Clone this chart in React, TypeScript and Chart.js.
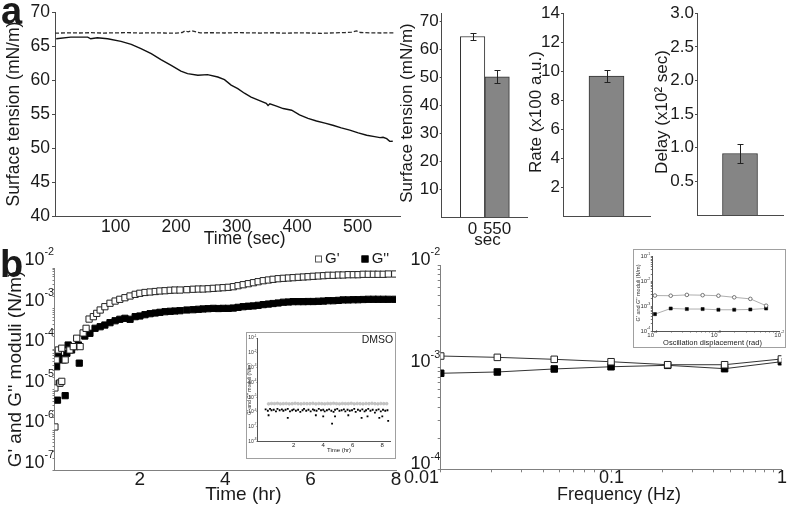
import React, { useEffect, useRef } from 'react';
import { Chart, registerables } from 'chart.js';

Chart.register(...registerables);

const FONT = '"Liberation Sans", Arial, Helvetica, sans-serif';
const INK = '#1a1a1a';
const AXIS = '#4a4a4a';
const AXIS_B = '#808080';

// ---------- Panel a : surface tension vs time ----------
const timeSolid = [2, 26, 54, 59, 70, 87, 109, 126, 142, 159, 175, 192, 208, 219, 236, 252, 269, 280, 291, 302, 313, 324, 338, 349, 352, 355, 366, 377, 391, 404, 418, 432, 446, 459, 473, 487, 501, 515, 528, 537, 542, 548, 553, 558];
const tensionSolid = [66.13, 66.37, 66.37, 66.13, 66.28, 66.13, 65.74, 65.29, 64.66, 63.93, 63.04, 62.21, 61.37, 60.99, 60.74, 60.84, 60.49, 60.1, 59.3, 58.78, 58.1, 57.54, 57.0, 56.6, 56.3, 56.55, 56.2, 55.84, 55.59, 54.9, 54.4, 54.01, 53.7, 53.38, 53.0, 52.65, 52.25, 51.91, 51.7, 51.55, 51.6, 51.4, 51.0, 51.03];
const timeCtrl = [0, 20, 40, 60, 80, 100, 120, 140, 160, 180, 200, 210, 215, 220, 226, 240, 260, 280, 300, 320, 340, 360, 380, 400, 420, 440, 460, 480, 490, 498, 505, 520, 540, 560];
const tensionCtrl = [66.95, 67.0, 66.98, 67.02, 66.97, 67.0, 67.03, 66.97, 67.0, 66.98, 66.95, 67.05, 67.3, 67.15, 67.3, 67.0, 67.02, 66.98, 67.03, 67.0, 66.97, 67.02, 66.95, 67.0, 66.98, 66.93, 67.0, 67.05, 67.1, 67.3, 67.05, 67.0, 66.98, 67.0];
const timeTicks = [100, 200, 300, 400, 500];
const tensionTicks = [40, 45, 50, 55, 60, 65, 70];

const barCats = ['0', '550'];
const barMeans = [64.6, 50.2];
const barErrs = [1.2, 2.4];
const barTicks = [10, 20, 30, 40, 50, 60, 70];

const rateMean = [9.66];
const rateErr = [0.4];
const rateTicks = [2, 4, 6, 8, 10, 12, 14];

const delayMean = [0.915];
const delayErr = [0.135];
const delayTicks = [0.5, 1.0, 1.5, 2.0, 2.5, 3.0];

// ---------- Panel b left : G' G'' vs time ----------
const earlyTimeGp = [0.01, 0.01, 0.04, 0.09, 0.13, 0.17, 0.17, 0.25, 0.36, 0.44, 0.52, 0.6, 0.67, 0.74, 0.81, 0.91, 0.99, 1.07, 1.18, 1.3, 1.42, 1.53, 1.65, 1.77, 1.89, 2.0];
const earlyGp = [1.2e-6, 1.1e-5, 5.4e-5, 9.5e-5, 1.45e-5, 1.6e-5, 1.05e-4, 5.4e-5, 9.5e-5, 1.15e-4, 1.85e-4, 1.15e-4, 2.5e-4, 3.25e-4, 5.5e-4, 6.3e-4, 7.6e-4, 9.2e-4, 1.11e-3, 1.35e-3, 1.53e-3, 1.69e-3, 1.85e-3, 2.04e-3, 2.24e-3, 2.38e-3];
const earlyTimeGpp = [0.05, 0.07, 0.07, 0.09, 0.11, 0.17, 0.21, 0.25, 0.29, 0.32, 0.4, 0.48, 0.56, 0.58, 0.71, 0.83, 0.95, 1.07, 1.18, 1.3, 1.42, 1.53, 1.65, 1.77, 1.89, 2.0];
const earlyGpp = [3.67e-5, 5.5e-6, 5.4e-5, 7.9e-5, 1.43e-5, 5.9e-5, 5.4e-5, 7.1e-6, 7.9e-5, 1.26e-4, 9.5e-5, 1.15e-4, 1.26e-4, 4.5e-5, 2.1e-4, 2.45e-4, 3.26e-4, 3.56e-4, 3.92e-4, 4.48e-4, 5.0e-4, 5.43e-4, 5.74e-4, 5.43e-4, 6.3e-4, 6.55e-4];
const lateTime = [2.12, 2.24, 2.36, 2.47, 2.59, 2.71, 2.82, 2.94, 3.1, 3.25, 3.37, 3.48, 3.6, 3.72, 3.84, 3.95, 4.07, 4.19, 4.3, 4.42, 4.54, 4.66, 4.77, 4.89, 5.01, 5.12, 5.24, 5.36, 5.48, 5.59, 5.71, 5.83, 5.94, 6.06, 6.18, 6.3, 6.41, 6.53, 6.65, 6.76, 6.88, 7.0, 7.11, 7.23, 7.35, 7.47, 7.58, 7.7, 7.82, 7.97];
const lateGp = [2.49e-3, 2.56e-3, 2.63e-3, 2.71e-3, 2.75e-3, 2.82e-3, 2.86e-3, 2.86e-3, 2.92e-3, 2.99e-3, 3.03e-3, 3.03e-3, 3.08e-3, 3.15e-3, 3.21e-3, 3.27e-3, 3.34e-3, 3.46e-3, 3.66e-3, 3.87e-3, 4.1e-3, 4.34e-3, 4.59e-3, 4.86e-3, 5.06e-3, 5.26e-3, 5.44e-3, 5.57e-3, 5.67e-3, 5.77e-3, 5.9e-3, 6.0e-3, 6.1e-3, 6.24e-3, 6.35e-3, 6.46e-3, 6.61e-3, 6.61e-3, 6.72e-3, 6.72e-3, 6.84e-3, 6.84e-3, 6.84e-3, 7.0e-3, 7.0e-3, 7.0e-3, 7.0e-3, 7.0e-3, 7.11e-3, 7.11e-3];
const lateGpp = [7.05e-4, 7.46e-4, 7.76e-4, 8.07e-4, 8.35e-4, 8.55e-4, 8.69e-4, 8.85e-4, 9.2e-4, 9.36e-4, 9.58e-4, 9.75e-4, 9.91e-4, 1.01e-3, 1.0e-3, 1.01e-3, 1.01e-3, 1.03e-3, 1.07e-3, 1.11e-3, 1.14e-3, 1.16e-3, 1.2e-3, 1.25e-3, 1.29e-3, 1.33e-3, 1.37e-3, 1.43e-3, 1.45e-3, 1.48e-3, 1.48e-3, 1.48e-3, 1.49e-3, 1.49e-3, 1.51e-3, 1.53e-3, 1.56e-3, 1.56e-3, 1.59e-3, 1.63e-3, 1.63e-3, 1.65e-3, 1.65e-3, 1.67e-3, 1.69e-3, 1.69e-3, 1.69e-3, 1.69e-3, 1.69e-3, 1.69e-3];
const hourTicks = [2, 4, 6, 8];

// DMSO inset
const dmsoTimeGp = [0.3, 0.5, 0.7, 0.9, 1.1, 1.3, 1.5, 1.7, 1.9, 2.1, 2.3, 2.5, 2.7, 2.9, 3.1, 3.3, 3.5, 3.7, 3.9, 4.1, 4.3, 4.5, 4.7, 4.9, 5.1, 5.3, 5.5, 5.7, 5.9, 6.1, 6.3, 6.5, 6.7, 6.9, 7.1, 7.3, 7.5, 7.7, 7.9, 8.1, 8.3];
const dmsoGp = [3.5e-6, 3.7e-6, 3.6e-6, 3.8e-6, 3.5e-6, 3.6e-6, 3.7e-6, 3.5e-6, 3.6e-6, 3.8e-6, 3.6e-6, 3.5e-6, 3.7e-6, 3.6e-6, 3.6e-6, 3.8e-6, 3.5e-6, 3.7e-6, 3.6e-6, 3.5e-6, 3.7e-6, 3.6e-6, 3.8e-6, 3.6e-6, 3.5e-6, 3.7e-6, 3.6e-6, 3.6e-6, 3.8e-6, 3.5e-6, 3.7e-6, 3.6e-6, 3.5e-6, 3.7e-6, 3.6e-6, 3.8e-6, 3.6e-6, 3.5e-6, 3.7e-6, 3.6e-6, 3.6e-6];
const dmsoTimeGpp = [0.1, 0.25, 0.4, 0.5, 0.65, 0.8, 0.9, 1.05, 1.2, 1.3, 1.45, 1.6, 1.75, 1.9, 2.0, 2.15, 2.3, 2.45, 2.6, 2.7, 2.85, 3.0, 3.15, 3.3, 3.4, 3.55, 3.7, 3.85, 4.0, 4.1, 4.25, 4.4, 4.55, 4.7, 4.8, 4.95, 5.1, 5.25, 5.4, 5.5, 5.65, 5.8, 5.95, 6.1, 6.2, 6.35, 6.5, 6.65, 6.8, 6.9, 7.05, 7.2, 7.35, 7.5, 7.6, 7.75, 7.9, 8.05, 8.2, 8.35, 0.3, 1.6, 3.5, 4.0, 4.6, 4.8, 5.7, 6.6, 7.0, 7.8, 8.0, 8.4];
const dmsoGpp = [1.5e-6, 1.2e-6, 1.6e-6, 1.3e-6, 1.4e-6, 1.1e-6, 1.6e-6, 1.3e-6, 1.5e-6, 1.2e-6, 1.4e-6, 1.6e-6, 1.1e-6, 1.3e-6, 1.5e-6, 1.2e-6, 1.4e-6, 1.0e-6, 1.3e-6, 1.6e-6, 1.2e-6, 1.4e-6, 1.1e-6, 1.5e-6, 1.3e-6, 1.2e-6, 1.6e-6, 1.3e-6, 1.4e-6, 1.1e-6, 1.3e-6, 1.5e-6, 1.2e-6, 1.0e-6, 1.4e-6, 1.6e-6, 1.2e-6, 1.3e-6, 1.5e-6, 1.1e-6, 1.4e-6, 1.2e-6, 1.3e-6, 1.6e-6, 1.0e-6, 1.4e-6, 1.2e-6, 1.5e-6, 1.1e-6, 1.3e-6, 1.6e-6, 1.2e-6, 1.4e-6, 0.9e-6, 1.3e-6, 1.5e-6, 1.1e-6, 1.4e-6, 1.2e-6, 1.3e-6, 6e-7, 4e-7, 6e-7, 5e-7, 1.6e-7, 5e-7, 6e-7, 4e-7, 5e-7, 4e-7, 5e-7, 2.5e-7];
const dmsoHourTicks = [2, 4, 6, 8];

// ---------- Panel b right : frequency sweep ----------
const freq = [0.01, 0.0215, 0.0464, 0.1, 0.215, 0.464, 1];
const freqGp = [1.285e-3, 1.247e-3, 1.193e-3, 1.13e-3, 1.056e-3, 1.056e-3, 1.202e-3];
const freqGpp = [8.71e-4, 8.97e-4, 9.6e-4, 1.009e-3, 1.042e-3, 9.66e-4, 1.13e-3];
const freqLabels = ['0.01', '0.1', '1'];

// amplitude inset
const disp = [1.1e-4, 1.95e-4, 3.5e-4, 6.2e-4, 1.1e-3, 1.95e-3, 3.5e-3, 6.2e-3];
const dispGp = [2.7e-3, 2.66e-3, 2.87e-3, 2.79e-3, 2.66e-3, 2.29e-3, 1.98e-3, 1.05e-3];
const dispGpp = [4.8e-4, 8.1e-4, 7.7e-4, 7.7e-4, 7.2e-4, 7.2e-4, 7.4e-4, 8.1e-4];

// ---------- helpers ----------
const fixW = (w: number) => (s: any) => { s.width = w; };
const fixH = (h: number) => (s: any) => { s.height = h; };
const setTicks = (vals: number[]) => (s: any) => { s.ticks = vals.map((v) => ({ value: v })); };
function logTicks(lo: number, hi: number) {
  const out: number[] = [];
  for (let e = lo; e < hi; e++) for (let m = 1; m < 10; m++) out.push(m * Math.pow(10, e));
  out.push(Math.pow(10, hi));
  return out;
}
const pts = (xs: number[], ys: number[]) => xs.map((x, i) => ({ x, y: ys[i] }));
const font = (size: number, lineHeight = 1.2) => ({ family: FONT, size, lineHeight });

function drawPow(ctx: any, x: number, y: number, exp: number, size: number, align: string, color: string) {
  ctx.save();
  ctx.fillStyle = color;
  ctx.textBaseline = 'middle';
  ctx.textAlign = 'left';
  const big = `${size}px ${FONT}`;
  const small = `${size * 0.6}px ${FONT}`;
  ctx.font = big;
  const w1 = ctx.measureText('10').width;
  const es = String(exp);
  ctx.font = small;
  const w2 = ctx.measureText(es).width;
  const x0 = align === 'right' ? x - w1 - w2 : x - (w1 + w2) / 2;
  ctx.font = big;
  ctx.fillText('10', x0, y);
  ctx.font = small;
  ctx.fillText(es, x0 + w1, y - size * 0.42);
  ctx.restore();
}

const textPlugin = {
  id: 'texts',
  afterDraw(chart: any, _a: any, opts: any) {
    const ctx = chart.ctx;
    for (const it of opts.items || []) {
      ctx.save();
      ctx.font = `${it.bold ? 'bold ' : ''}${it.size}px ${FONT}`;
      ctx.fillStyle = it.color || INK;
      ctx.textAlign = it.align || 'center';
      ctx.textBaseline = it.baseline || 'middle';
      ctx.translate(it.x, it.y);
      if (it.rot) ctx.rotate(it.rot);
      ctx.fillText(it.t, 0, 0);
      ctx.restore();
    }
    for (const m of opts.marks || []) {
      ctx.save();
      ctx.fillStyle = m.fill;
      ctx.strokeStyle = m.stroke;
      ctx.lineWidth = 1;
      ctx.fillRect(m.x - m.s / 2, m.y - m.s / 2, m.s, m.s);
      ctx.strokeRect(m.x - m.s / 2 + 0.5, m.y - m.s / 2 + 0.5, m.s - 1, m.s - 1);
      ctx.restore();
    }
  },
};

const powPlugin = {
  id: 'pow',
  afterDraw(chart: any, _a: any, opts: any) {
    const ctx = chart.ctx;
    for (const sp of opts.specs || []) {
      const s = chart.scales[sp.axis];
      for (const e of sp.exps) {
        const p = s.getPixelForValue(Math.pow(10, e));
        if (s.isHorizontal()) drawPow(ctx, p + (sp.dx || 0), s.top + sp.dy, e, sp.size, 'center', sp.color || INK);
        else drawPow(ctx, s.right - sp.dx, p + (sp.dy || 0), e, sp.size, 'right', sp.color || INK);
      }
    }
  },
};

const errPlugin = {
  id: 'errbars',
  afterDatasetsDraw(chart: any) {
    const ctx = chart.ctx;
    const y = chart.scales.y;
    chart.data.datasets.forEach((ds: any, di: number) => {
      if (!ds.errors) return;
      const meta = chart.getDatasetMeta(di);
      meta.data.forEach((el: any, i: number) => {
        const raw = ds.data[i];
        const v = typeof raw === 'number' ? raw : raw.y;
        const t = Math.round(y.getPixelForValue(v + ds.errors[i])) + 0.5;
        const b = Math.round(y.getPixelForValue(v - ds.errors[i])) + 0.5;
        const x = Math.round(el.x) + 0.5;
        ctx.save();
        ctx.strokeStyle = '#222';
        ctx.lineWidth = 1;
        ctx.beginPath();
        ctx.moveTo(x, t); ctx.lineTo(x, b);
        ctx.moveTo(x - 3, t); ctx.lineTo(x + 3, t);
        ctx.moveTo(x - 3, b); ctx.lineTo(x + 3, b);
        ctx.stroke();
        ctx.restore();
      });
    });
  },
};

const base = {
  responsive: false,
  animation: false as const,
  devicePixelRatio: 1,
  events: [] as any[],
};

const noLegend = { legend: { display: false }, tooltip: { enabled: false } };

function axisLinear(o: any) {
  return {
    type: 'linear',
    offset: false,
    border: { display: true, color: o.color || AXIS, width: 1 },
    grid: { display: true, offset: false, drawOnChartArea: false, drawTicks: !!o.tick, tickLength: o.tick || 0, color: o.color || AXIS },
    ticks: { font: font(o.size || 17, o.lh || 1.2), color: INK, padding: o.pad ?? 2, maxRotation: 0, autoSkip: false, callback: o.cb },
    ...o.extra,
  };
}

// ---------- chart configs ----------
function cfgLine() {
  return {
    type: 'line',
    data: {
      datasets: [
        { data: pts(timeCtrl, tensionCtrl), borderColor: '#2a2a2a', borderWidth: 1.3, borderDash: [4, 2], pointRadius: 0 },
        { data: pts(timeSolid, tensionSolid), borderColor: '#111', borderWidth: 1.4, pointRadius: 0 },
      ],
    },
    options: {
      ...base,
      layout: { padding: { top: 12, right: 10, left: 0, bottom: 0 } },
      scales: {
        x: axisLinear({ size: 17.5, pad: 1, extra: { min: 0, max: 570, afterBuildTicks: setTicks(timeTicks), afterFit: fixH(34) } }),
        y: axisLinear({ size: 17.5, tick: 3, pad: 2, extra: { min: 40, max: 70, afterBuildTicks: setTicks(tensionTicks), afterFit: fixW(55) } }),
      },
      plugins: {
        ...noLegend,
        texts: {
          items: [
            { t: 'a', x: 1, y: 24, size: 38, bold: true, align: 'left', baseline: 'alphabetic' },
            { t: 'Surface tension (mN/m)', x: 14.5, y: 114, size: 17.5, rot: -Math.PI / 2 },
            { t: 'Time (sec)', x: 244.7, y: 239.5, size: 17.5 },
          ],
        },
      },
    },
    plugins: [textPlugin],
  };
}

function cfgBar1() {
  return {
    type: 'bar',
    data: {
      datasets: [
        {
          data: barMeans.map((v, i) => ({ x: i, y: v })),
          backgroundColor: ['#ffffff', '#858585'],
          borderColor: '#333',
          borderWidth: 1,
          barThickness: 24.5,
          errors: barErrs,
        },
      ],
    },
    options: {
      ...base,
      layout: { padding: { top: 13, right: 10, left: 0, bottom: 0 } },
      scales: {
        x: axisLinear({ size: 17, pad: 2, cb: (_v: any, i: number) => barCats[i], extra: { min: -1.26, max: 2.22, afterBuildTicks: setTicks(barCats.map((_c, i) => i)), afterFit: fixH(33) } }),
        y: axisLinear({ size: 17, tick: 2, pad: 1, extra: { min: 0, max: 73, afterBuildTicks: setTicks(barTicks), afterFit: fixW(49.7) } }),
      },
      plugins: {
        ...noLegend,
        texts: {
          items: [
            { t: 'Surface tension (mN/m)', x: 15, y: 113, size: 17, rot: -Math.PI / 2 },
            { t: 'sec', x: 95.5, y: 240, size: 17 },
          ],
        },
      },
    },
    plugins: [errPlugin, textPlugin],
  };
}

function cfgSingleBar(values: number[], errs: number[], max: number, ticks: number[], yW: number, top: number, xH: number, rightPad: number, title: string, fmt?: (v: number) => string) {
  return {
    type: 'bar',
    data: {
      labels: [''],
      datasets: [
        { data: values, backgroundColor: '#858585', borderColor: '#333', borderWidth: 1, barThickness: 35, errors: errs },
      ],
    },
    options: {
      ...base,
      layout: { padding: { top, right: rightPad, left: 0, bottom: 0 } },
      scales: {
        x: {
          type: 'category',
          border: { display: true, color: AXIS, width: 1 },
          grid: { display: false },
          ticks: { display: false },
          afterFit: fixH(xH),
        },
        y: axisLinear({ size: 17, tick: 2, pad: 1, cb: fmt ? (v: number) => fmt(v) : undefined, extra: { min: 0, max, afterBuildTicks: setTicks(ticks), afterFit: fixW(yW) } }),
      },
      plugins: {
        ...noLegend,
        texts: { items: [{ t: title, x: 14, y: 112, size: 17, rot: -Math.PI / 2 }] },
      },
    },
    plugins: [errPlugin, textPlugin],
  };
}

function cfgTimeLog() {
  return {
    type: 'scatter',
    data: {
      datasets: [
        { data: pts([...earlyTimeGp, ...lateTime], [...earlyGp, ...lateGp]), pointStyle: 'rect', pointRadius: 4.4, backgroundColor: '#fff', borderColor: '#222', borderWidth: 1 },
        { data: pts([...earlyTimeGpp, ...lateTime], [...earlyGpp, ...lateGpp]), pointStyle: 'rect', pointRadius: 4.4, backgroundColor: '#000', borderColor: '#000', borderWidth: 1 },
      ],
    },
    options: {
      ...base,
      layout: { padding: { top: 23, right: 14, left: 0, bottom: 0 } },
      scales: {
        x: axisLinear({ size: 19, lh: 1.0, pad: 0, color: AXIS_B, extra: { min: 0, max: 8, afterBuildTicks: setTicks(hourTicks), afterFit: fixH(35.3) } }),
        y: {
          type: 'logarithmic',
          min: 1e-7,
          max: 1e-2,
          border: { display: true, color: AXIS_B, width: 1 },
          grid: { display: true, drawOnChartArea: false, drawTicks: true, tickLength: 2, color: AXIS_B },
          ticks: { display: false },
          afterBuildTicks: setTicks(logTicks(-7, -2)),
          afterFit: fixW(54.5),
        },
      },
      plugins: {
        ...noLegend,
        pow: { specs: [{ axis: 'y', exps: [-2, -3, -4, -5, -6, -7], size: 18, dx: 0.5, dy: -8 }] },
        texts: {
          items: [
            { t: 'b', x: 0, y: 31.5, size: 38, bold: true, align: 'left', baseline: 'alphabetic' },
            { t: "G' and G'' moduli (N/m)", x: 16, y: 124, size: 19, rot: -Math.PI / 2 },
            { t: 'Time (hr)', x: 243.3, y: 250, size: 19 },
            { t: "G'", x: 325, y: 14, size: 15, align: 'left' },
            { t: "G''", x: 371.7, y: 14, size: 15, align: 'left' },
          ],
          marks: [
            { x: 318.5, y: 14, s: 7, fill: '#fff', stroke: '#555' },
            { x: 365, y: 14, s: 7, fill: '#000', stroke: '#000' },
          ],
        },
      },
    },
    plugins: [powPlugin, textPlugin],
  };
}

function cfgDmso() {
  return {
    type: 'scatter',
    data: {
      datasets: [
        { data: pts(dmsoTimeGp, dmsoGp), pointStyle: 'circle', pointRadius: 1.4, backgroundColor: '#c4c4c4', borderColor: '#b5b5b5', borderWidth: 0.6 },
        { data: pts(dmsoTimeGpp, dmsoGpp), pointStyle: 'rect', pointRadius: 1.3, backgroundColor: '#000', borderColor: '#000', borderWidth: 0 },
      ],
    },
    options: {
      ...base,
      layout: { padding: { top: 5, right: 1, left: 0, bottom: 0 } },
      scales: {
        x: axisLinear({ size: 6, lh: 1.0, pad: 1, color: '#555', extra: { min: -0.45, max: 8.55, afterBuildTicks: setTicks(dmsoHourTicks), afterFit: fixH(16.5) } }),
        y: {
          type: 'logarithmic',
          min: 1e-8,
          max: 1e-1,
          border: { display: true, color: '#555', width: 1 },
          grid: { display: true, drawOnChartArea: false, drawTicks: true, tickLength: 1, color: '#777' },
          ticks: { display: false },
          afterBuildTicks: setTicks([1e-8, 1e-7, 1e-6, 1e-5, 1e-4, 1e-3, 1e-2, 1e-1]),
          afterFit: fixW(10.5),
        },
      },
      plugins: {
        ...noLegend,
        pow: { specs: [{ axis: 'y', exps: [-1, -2, -3, -4, -5, -6, -7, -8], size: 5, dx: 1, dy: 0, color: '#333' }] },
        texts: {
          items: [
            { t: 'DMSO', x: 130.5, y: 7, size: 10.5 },
            { t: 'Time (hr)', x: 92, y: 117, size: 6 },
            { t: "G' and G'' moduli (N/m)", x: 2.5, y: 56, size: 5, rot: -Math.PI / 2, color: '#333' },
          ],
        },
      },
    },
    plugins: [powPlugin, textPlugin],
  };
}

function cfgFreq() {
  return {
    type: 'line',
    data: {
      datasets: [
        { data: pts(freq, freqGp), borderColor: '#333', borderWidth: 1, pointStyle: 'rect', pointRadius: 4.6, backgroundColor: '#fff', pointBorderColor: '#222', pointBorderWidth: 1 },
        { data: pts(freq, freqGpp), borderColor: '#333', borderWidth: 1, pointStyle: 'rect', pointRadius: 4.6, backgroundColor: '#000', pointBorderColor: '#000', pointBorderWidth: 1 },
      ],
    },
    options: {
      ...base,
      layout: { padding: { top: 20, right: 4.5, left: 0, bottom: 0 } },
      scales: {
        x: {
          type: 'logarithmic',
          min: 0.01,
          max: 1,
          border: { display: true, color: AXIS_B, width: 1 },
          grid: { display: true, drawOnChartArea: false, drawTicks: true, tickLength: 3, color: AXIS_B },
          ticks: { display: false },
          afterBuildTicks: setTicks(logTicks(-2, 0)),
          afterFit: fixH(36.7),
        },
        y: {
          type: 'logarithmic',
          min: 1e-4,
          max: 1e-2,
          border: { display: true, color: AXIS_B, width: 1 },
          grid: { display: true, drawOnChartArea: false, drawTicks: true, tickLength: 3, color: AXIS_B },
          ticks: { display: false },
          afterBuildTicks: setTicks(logTicks(-4, -2)),
          afterFit: fixW(40.7),
        },
      },
      plugins: {
        ...noLegend,
        pow: { specs: [{ axis: 'y', exps: [-2, -3, -4], size: 18, dx: 0.5, dy: -5 }] },
        texts: {
          items: [
            { t: freqLabels[0], x: 39, y: 233, size: 18, align: 'right' },
            { t: freqLabels[1], x: 211.5, y: 233, size: 18 },
            { t: freqLabels[2], x: 382, y: 233, size: 18 },
            { t: 'Frequency (Hz)', x: 219, y: 250, size: 18 },
          ],
        },
      },
    },
    plugins: [powPlugin, textPlugin],
  };
}

function cfgAmp() {
  return {
    type: 'line',
    data: {
      datasets: [
        { data: pts(disp, dispGp), borderColor: '#999', borderWidth: 0.8, pointStyle: 'circle', pointRadius: 1.8, backgroundColor: '#fff', pointBorderColor: '#555', pointBorderWidth: 0.8 },
        { data: pts(disp, dispGpp), borderColor: '#999', borderWidth: 0.8, pointStyle: 'rect', pointRadius: 2.2, backgroundColor: '#000', pointBorderColor: '#000', pointBorderWidth: 0.5 },
      ],
    },
    options: {
      ...base,
      layout: { padding: { top: 6.7, right: 5.7, left: 0, bottom: 0 } },
      scales: {
        x: {
          type: 'logarithmic',
          min: 1e-4,
          max: 1e-2,
          border: { display: true, color: '#555', width: 1 },
          grid: { display: true, drawOnChartArea: false, drawTicks: true, tickLength: 1.5, color: '#777' },
          ticks: { display: false },
          afterBuildTicks: setTicks(logTicks(-4, -2)),
          afterFit: fixH(16),
        },
        y: {
          type: 'logarithmic',
          min: 1e-4,
          max: 1e-1,
          border: { display: true, color: '#555', width: 1 },
          grid: { display: true, drawOnChartArea: false, drawTicks: true, tickLength: 1.5, color: '#777' },
          ticks: { display: false },
          afterBuildTicks: setTicks(logTicks(-4, -1)),
          afterFit: fixW(18.3),
        },
      },
      plugins: {
        ...noLegend,
        pow: {
          specs: [
            { axis: 'y', exps: [-1, -2, -3, -4], size: 6, dx: 2, dy: 0, color: '#333' },
            { axis: 'x', exps: [-4, -3, -2], size: 6, dx: 0, dy: 4, color: '#333' },
          ],
        },
        texts: {
          items: [
            { t: 'Oscillation displacement (rad)', x: 78.5, y: 92.5, size: 7.5, color: '#222' },
            { t: "G' and G'' moduli (N/m)", x: 4, y: 43, size: 5.5, rot: -Math.PI / 2, color: '#333' },
          ],
        },
      },
    },
    plugins: [powPlugin, textPlugin],
  };
}

// ---------- components ----------
type Box = { left: number; top: number; width: number; height: number };

function ChartCanvas({ box, make }: { box: Box; make: () => any }) {
  const ref = useRef<HTMLCanvasElement>(null);
  useEffect(() => {
    const chart = new Chart(ref.current as HTMLCanvasElement, make());
    return () => chart.destroy();
  }, []);
  return (
    <canvas
      ref={ref}
      width={box.width}
      height={box.height}
      style={{ position: 'absolute', left: box.left, top: box.top, width: box.width, height: box.height }}
    />
  );
}

function Frame({ box }: { box: Box }) {
  return (
    <div
      style={{
        position: 'absolute',
        left: box.left,
        top: box.top,
        width: box.width,
        height: box.height,
        border: '1px solid #a0a0a0',
        boxSizing: 'border-box',
        background: '#fff',
      }}
    />
  );
}

export default function App() {
  return (
    <div style={{ position: 'absolute', left: 0, top: 0, width: 787, height: 506, background: '#fff', overflow: 'hidden' }}>
      <ChartCanvas box={{ left: 0, top: 0, width: 410, height: 250 }} make={cfgLine} />
      <ChartCanvas box={{ left: 392, top: 0, width: 145, height: 250 }} make={cfgBar1} />
      <ChartCanvas
        box={{ left: 522, top: 0, width: 138, height: 250 }}
        make={() => cfgSingleBar(rateMean, rateErr, 14, rateTicks, 41, 13.3, 34, 10, 'Rate (x100 a.u.)')}
      />
      <ChartCanvas
        box={{ left: 648, top: 0, width: 139, height: 250 }}
        make={() => cfgSingleBar(delayMean, delayErr, 3, delayTicks, 49, 13.3, 35, 4, 'Delay (x10\u00b2 sec)', (v) => v.toFixed(1))}
      />
      <ChartCanvas box={{ left: 0, top: 245, width: 410, height: 261 }} make={cfgTimeLog} />
      <Frame box={{ left: 246, top: 332, width: 150, height: 127 }} />
      <ChartCanvas box={{ left: 247, top: 333, width: 148, height: 125 }} make={cfgDmso} />
      <ChartCanvas box={{ left: 400, top: 245, width: 387, height: 261 }} make={cfgFreq} />
      <Frame box={{ left: 633, top: 249, width: 153, height: 99 }} />
      <ChartCanvas box={{ left: 634, top: 250, width: 151, height: 97 }} make={cfgAmp} />
    </div>
  );
}
